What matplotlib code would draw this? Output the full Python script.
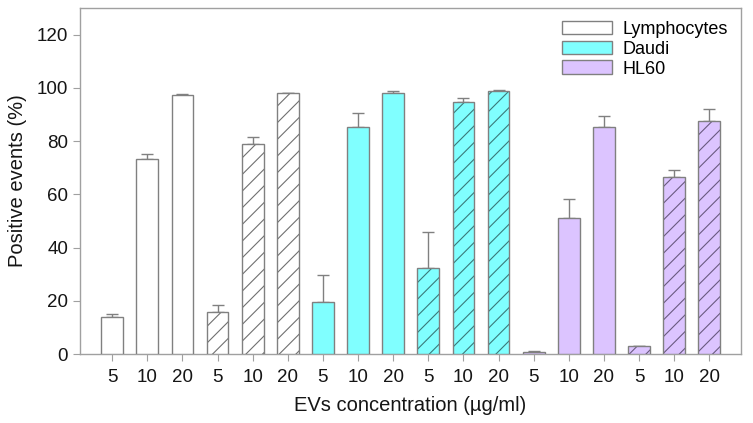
import matplotlib.pyplot as plt
import numpy as np
from matplotlib.patches import Patch

plt.rcParams['font.family'] = ['Liberation Sans', 'DejaVu Sans']
plt.rcParams['hatch.linewidth'] = 0.8

# data
concentrations = ['5', '10', '20']
cell_types = ['Lymphocytes', 'Daudi', 'HL60']
# per cell type: plain set then hatched set
lymph_plain = [14.1, 73.4, 97.2]
lymph_plain_err = [1.0, 1.7, 0.4]
lymph_hatch = [15.9, 79.0, 98.1]
lymph_hatch_err = [2.6, 2.6, 0.0]
daudi_plain = [19.7, 85.4, 98.2]
daudi_plain_err = [9.9, 5.1, 0.5]
daudi_hatch = [32.4, 94.6, 99.0]
daudi_hatch_err = [13.6, 1.6, 0.3]
hl60_plain = [0.9, 51.1, 85.4]
hl60_plain_err = [0.2, 7.0, 4.1]
hl60_hatch = [2.9, 66.7, 87.5]
hl60_hatch_err = [0.2, 2.6, 4.6]

colors = {'Lymphocytes': '#ffffff', 'Daudi': '#80ffff', 'HL60': '#dcc4ff'}
hatch_colors = {'Lymphocytes': '#707070', 'Daudi': '#3a7a7a', 'HL60': '#6a5a80'}
edge = '#808080'

groups = [
    ('Lymphocytes', lymph_plain, lymph_plain_err, ''),
    ('Lymphocytes', lymph_hatch, lymph_hatch_err, '//'),
    ('Daudi', daudi_plain, daudi_plain_err, ''),
    ('Daudi', daudi_hatch, daudi_hatch_err, '//'),
    ('HL60', hl60_plain, hl60_plain_err, ''),
    ('HL60', hl60_hatch, hl60_hatch_err, '//'),
]

fig = plt.figure(figsize=(7.53, 4.23), dpi=100)
ax = fig.add_axes([0.106, 0.163, 0.878, 0.818])

pos = 1
xticks, xlabels = [], []
for cell, vals, errs, hatch in groups:
    x = np.arange(pos, pos + len(vals))
    bars = ax.bar(x, vals, width=0.62, color=colors[cell], edgecolor=edge,
                  linewidth=1.0, hatch=hatch, zorder=3)
    if hatch:
        for b in bars:
            b.set_edgecolor(hatch_colors[cell])
            b.set_linewidth(0.0)
        # outline drawn separately so the hatch can keep its own colour
        ax.bar(x, vals, width=0.62, fill=False, edgecolor=edge, linewidth=1.0, zorder=4)
    ax.errorbar(x, vals, yerr=[np.zeros(len(errs)), errs], fmt='none',
                ecolor=edge, elinewidth=1.0, capsize=4, capthick=1.0, zorder=2)
    xticks.extend(x)
    xlabels.extend(concentrations)
    pos += len(vals)

ax.set_xlim(0.08, 18.9)
ax.set_ylim(0, 130)
ax.set_xticks(xticks)
ax.set_xticklabels(xlabels)
ax.set_yticks(np.arange(0, 121, 20))

for sp in ax.spines.values():
    sp.set_color('#a0a0a0')
    sp.set_linewidth(1.0)
ax.tick_params(colors='#a0a0a0', labelcolor='#151515', labelsize=13.5, direction='out', length=5)
ax.tick_params(axis='x', pad=6)

ax.set_xlabel('EVs concentration (\u00b5g/ml)', fontsize=14.5, labelpad=7, color='#151515')
ax.set_ylabel('Positive events (%)', fontsize=14.5, labelpad=7, color='#151515')

handles = [Patch(facecolor=colors[c], edgecolor=edge, label=c) for c in cell_types]
ax.legend(handles=handles, loc='upper right', frameon=False, fontsize=13,
          handlelength=2.8, handleheight=0.8, labelspacing=0.15, handletextpad=0.6,
          borderaxespad=0.3, bbox_to_anchor=(1.0, 1.0))

fig.savefig('out.png', dpi=100)
